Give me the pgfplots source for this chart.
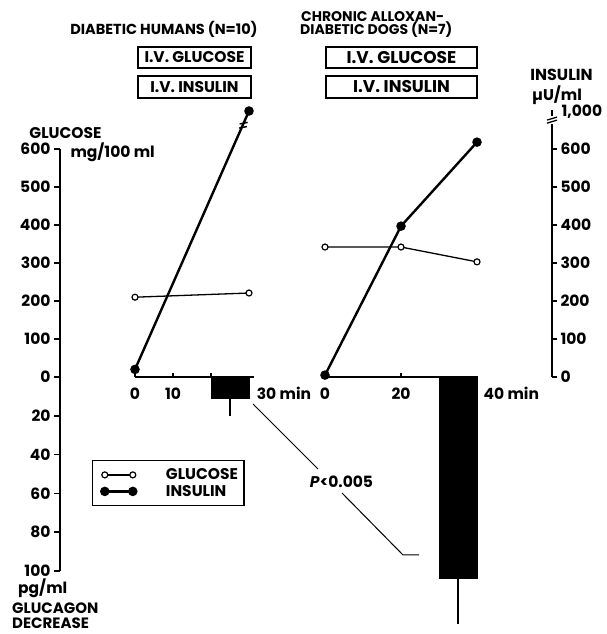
\documentclass[border=0pt]{standalone}
\usepackage{fontspec}
\setmainfont{Poppins}
\usepackage{pgfplots}
\pgfplotsset{compat=1.18}
\newcommand{\lf}{\fontsize{15.5}{17}\selectfont\bfseries}
\newcommand{\tf}{\fontsize{15.5}{15.5}\selectfont\bfseries}
\pgfplotsset{
 every axis/.append style={scale only axis, clip=false,
   /pgf/number format/assume math mode=true,
   ticklabel style={font=\tf},
   tick style={line width=1.5pt, black}},
 noarrow/.style={axis line style={-, line width=1.8pt},
   every inner x axis line/.append style={-}, every outer x axis line/.append style={-},
   every inner y axis line/.append style={-}, every outer y axis line/.append style={-}},
 gluc/.style={line width=1.3pt, mark=*, mark size=3pt, mark options={fill=white, draw=black, line width=1.2pt}},
 ins/.style={line width=2.4pt, mark=*, mark size=3.5pt, mark options={fill=black}},
}
\begin{document}
\begin{tikzpicture}
\useasboundingbox (0pt,0pt) rectangle (607pt,634pt);

% ---------- left glucose axis ----------
\begin{axis}[anchor=south west, at={(60pt,257pt)}, x=1pt, y=0.38pt,
  xmin=0, xmax=1, ymin=0, ymax=600,
  axis y line=left, axis x line=none,
  ytick={0,100,...,600}, tick align=outside, major tick length=6pt, noarrow]
\addplot[draw=none] coordinates {(0,0)};
\end{axis}

% ---------- left glucagon axis (downwards) ----------
\begin{axis}[anchor=north west, at={(60pt,257pt)}, x=1pt, y=1.94pt,
  xmin=0, xmax=1, ymin=0, ymax=100, y dir=reverse,
  axis y line=left, axis x line=none,
  ytick={20,40,60,80,100}, tick align=outside, major tick length=6pt, noarrow]
\addplot[draw=none] coordinates {(0,0)};
\end{axis}

% ---------- diabetic humans: glucose & insulin ----------
\begin{axis}[anchor=south west, at={(135pt,257pt)}, x=3.8pt, y=0.38pt,
  xmin=0, xmax=31.4, ymin=0, ymax=720,
  axis x line=bottom, axis y line=none,
  xtick={0,10,20}, xticklabels={0,10,{}},
  tick align=inside, major tick length=4pt,
  xticklabel style={anchor=base, yshift=-23pt}, noarrow,
  legend image code/.code={\path (0pt,0pt) (65pt,0pt); \draw[#1] plot coordinates {(7pt,0pt) (35pt,0pt)};},
  legend style={at={(-0.3604,-0.3034)}, anchor=north west, draw=black, line width=1.2pt,
    font=\lf, inner xsep=4pt, inner ysep=6pt, row sep=0pt,
    nodes={inner sep=2pt}},
  legend cell align=left]
\addplot[gluc] coordinates {(0,210) (30,221)};
\addlegendentry{GLUCOSE}
\addplot[ins] coordinates {(0,20) (30,700)}; % 700 = position of 1,000 on the broken insulin scale
\addlegendentry{INSULIN}
\draw[line width=1.4pt] (axis cs:28.4,655) ++(-4pt,0pt) -- ++(8pt,1.5pt);
\draw[line width=1.4pt] (axis cs:28.6,666) ++(-4pt,0pt) -- ++(8pt,1.5pt);
\node[anchor=base west, font=\tf, xshift=-1pt, yshift=-23pt] at (axis cs:31.4,0) {30 min};
\end{axis}

% ---------- diabetic humans: glucagon bar ----------
\begin{axis}[anchor=north west, at={(135pt,257pt)}, x=3.8pt, y=1.94pt,
  xmin=0, xmax=31.4, ymin=0, ymax=130, y dir=reverse, axis lines=none]
\addplot[ybar, bar width=10, fill=black, draw=black, line width=0.4pt,
  error bars/.cd, y dir=plus, y explicit,
  error bar style={line width=1.5pt},
  error mark options={line width=1.5pt, mark size=2.5pt}]
  coordinates {(25,10.8) +- (0,7.8)};
\end{axis}

% ---------- dogs: glucose & insulin ----------
\begin{axis}[anchor=south west, at={(325pt,257pt)}, x=3.8pt, y=0.38pt,
  xmin=0, xmax=40.3, ymin=0, ymax=720,
  axis x line=bottom, axis y line=none,
  xtick={0,20}, xticklabels={0,20},
  tick align=inside, major tick length=4pt,
  xticklabel style={anchor=base, yshift=-23pt}, noarrow]
\addplot[gluc] coordinates {(0,342) (20,342) (40,303)};
\addplot[ins] coordinates {(0,5) (20,397) (40,618)};
\node[anchor=base west, font=\tf, xshift=2pt, yshift=-23pt] at (axis cs:40.3,0) {40 min};
\end{axis}

% ---------- dogs: glucagon bar ----------
\begin{axis}[anchor=north west, at={(325pt,257pt)}, x=3.8pt, y=1.94pt,
  xmin=0, xmax=40.3, ymin=0, ymax=130, y dir=reverse, axis lines=none]
\addplot[ybar, bar width=10, fill=black, draw=black, line width=0.4pt,
  error bars/.cd, y dir=plus, y explicit,
  error bar style={line width=1.5pt},
  error mark options={line width=1.5pt, mark size=2.5pt}]
  coordinates {(35,103.6) +- (0,22.2)};
\end{axis}

% ---------- right insulin axis ----------
\begin{axis}[anchor=south east, at={(552pt,257pt)}, x=1pt, y=0.38pt,
  xmin=-1, xmax=0, ymin=0, ymax=666,
  axis y line=right, axis x line=none,
  ytick={0,100,...,600}, tick align=outside, major tick length=5pt, noarrow]
\addplot[draw=none] coordinates {(0,0)};
\draw[line width=1.3pt] (axis cs:0,672) ++(-5pt,-1.5pt) -- ++(10pt,3pt);
\draw[line width=1.3pt] (axis cs:0,680) ++(-5pt,-1.5pt) -- ++(10pt,3pt);
\draw[line width=1.8pt] (axis cs:0,686) -- (axis cs:0,702);
\node[anchor=west, font=\tf, xshift=6pt] at (axis cs:0,697) {1,000};
\end{axis}

% ---------- texts and annotations ----------
\node[font=\fontsize{14.5}{15}\selectfont\bfseries] at (164pt,605pt) {DIABETIC HUMANS (N=10)};
\node[anchor=west, font=\fontsize{14}{15}\selectfont\bfseries, inner sep=0pt] at (301pt,617pt) {CHRONIC ALLOXAN-};
\node[anchor=west, font=\fontsize{14}{15}\selectfont\bfseries, inner sep=0pt] at (300pt,604pt) {DIABETIC DOGS (N=7)};

\draw[line width=1.3pt] (138pt,587pt) rectangle (251pt,566pt);
\node[font=\fontsize{15.5}{16}\selectfont\bfseries] at (194.5pt,576.5pt) {I.V. GLUCOSE};
\draw[line width=1.3pt] (138pt,558pt) rectangle (251pt,536pt);
\node[font=\fontsize{15.5}{16}\selectfont\bfseries] at (194.5pt,547pt) {I.V. INSULIN};
\draw[line width=1.3pt] (326pt,587pt) rectangle (477pt,566pt);
\node[font=\fontsize{17}{18}\selectfont\bfseries] at (401.5pt,576.5pt) {I.V. GLUCOSE};
\draw[line width=1.3pt] (326pt,558pt) rectangle (477pt,536pt);
\node[font=\fontsize{17}{18}\selectfont\bfseries] at (401.5pt,547pt) {I.V. INSULIN};

\node[font=\lf] at (65.5pt,501pt) {GLUCOSE};
\node[anchor=west, font=\lf] at (67pt,482pt) {mg/100 ml};
\node[anchor=west, font=\lf, inner sep=0pt] at (18pt,46pt) {pg/ml};
\node[anchor=west, font=\fontsize{15}{16}\selectfont\bfseries, inner sep=0pt] at (12pt,25.5pt) {GLUCAGON};
\node[anchor=west, font=\fontsize{15}{16}\selectfont\bfseries, inner sep=0pt] at (12pt,10.5pt) {DECREASE};

\node[font=\fontsize{16}{17}\selectfont\bfseries] at (561.5pt,559pt) {INSULIN};
\node[font=\lf] at (557pt,539pt) {µU/ml};

\draw[line width=1pt] (253pt,230pt) -- (318pt,165pt);
\node[font=\lf] at (341.5pt,152pt) {\textit{P}<0.005};
\draw[line width=1pt] (342pt,141pt) -- (403pt,79pt) -- (419pt,79pt);
\end{tikzpicture}
\end{document}
